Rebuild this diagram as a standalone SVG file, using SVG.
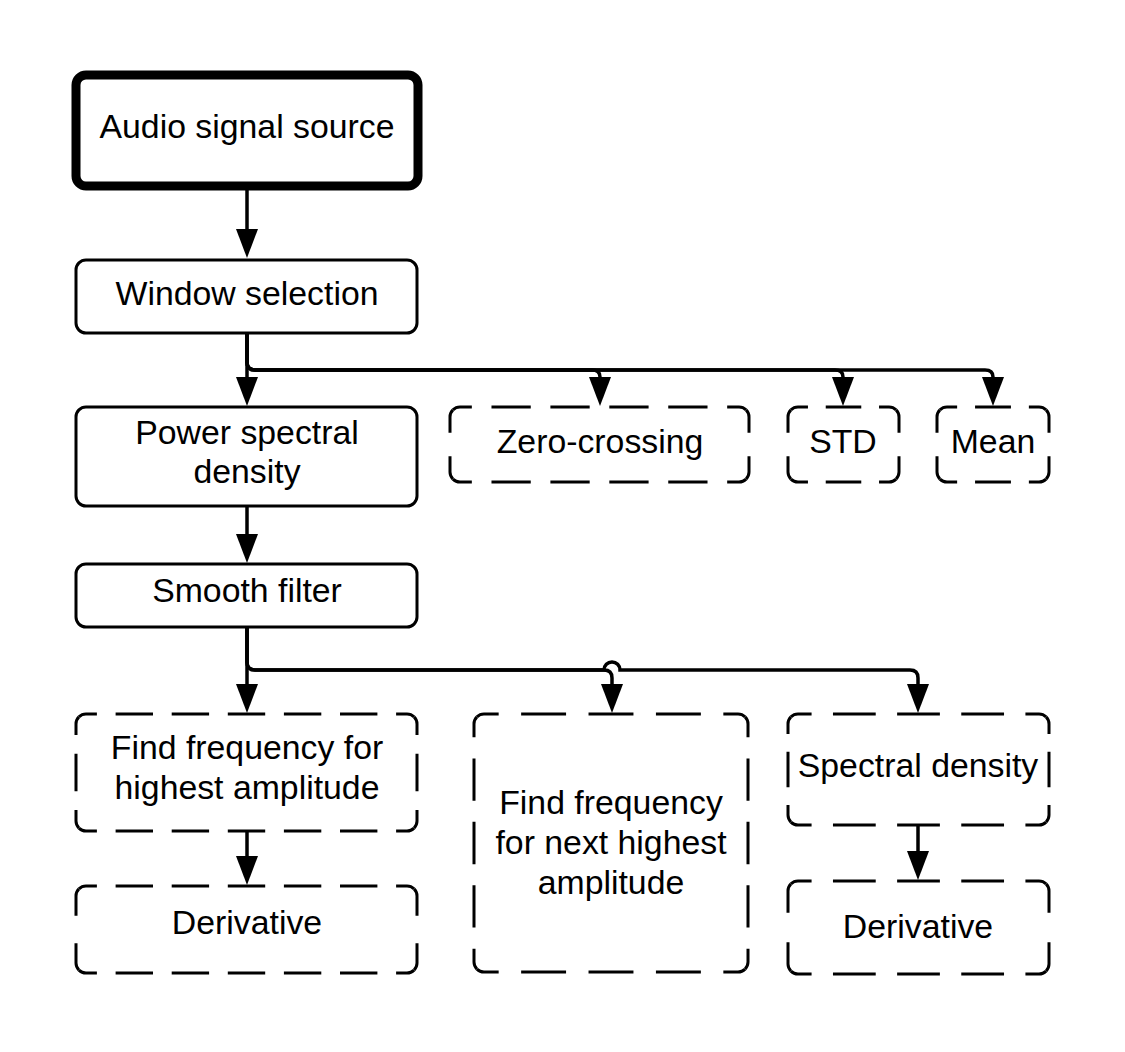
<svg xmlns="http://www.w3.org/2000/svg" width="1125" height="1052" viewBox="0 0 1125 1052">
<style>
.bx{fill:#fff;stroke:#000;stroke-width:3}
.bold{fill:#fff;stroke:#000;stroke-width:9}
.fill{fill:#fff;stroke:none}
.d{fill:none;stroke:#000;stroke-width:3;stroke-dasharray:36 18;stroke-dashoffset:18}
.c{fill:none;stroke:#000;stroke-width:3.5;marker-end:url(#ah)}
text{font-family:"Liberation Sans",Arial,sans-serif;font-size:33.8px;fill:#000;text-anchor:middle}
</style>
<defs>
<marker id="ah" viewBox="0 0 29 22" refX="0" refY="11" markerWidth="29" markerHeight="22" markerUnits="userSpaceOnUse" orient="auto"><path d="M0,0 L29,11 L0,22 z" fill="#000"/></marker>
</defs>
<rect width="1125" height="1052" fill="#fff"/>

<g id="connectors">
<path class="c" d="M247,190 V229"/>
<path class="c" d="M247,333 V377"/>
<path class="c" d="M247,333 V362 Q247,370 255,370 H592 Q600,370 600,377"/>
<path class="c" d="M247,333 V362 Q247,370 255,370 H835 Q843,370 843,377"/>
<path class="c" d="M247,333 V362 Q247,370 255,370 H985 Q993,370 993,377"/>
<path class="c" d="M247,506 V534"/>
<path class="c" d="M247,627 V684"/>
<path class="c" d="M247,627 V662 Q247,670 255,670 H604 Q612,670 612,678 V684"/>
<path class="c" d="M247,627 V662 Q247,670 255,670 H604 A8 8 0 0 1 620,670 H910 Q918,670 918,678 V684"/>
<path class="c" d="M247,831 V856"/>
<path class="c" d="M918,825 V851"/>
</g>

<g id="audio-signal-source">
<rect class="bold" x="76" y="75" width="342" height="111" rx="10"/>
<text x="247" y="138">Audio signal source</text>
</g>

<g id="window-selection">
<rect class="bx" x="76" y="260" width="341" height="73" rx="10"/>
<text x="247" y="305">Window selection</text>
</g>

<g id="power-spectral-density">
<rect class="bx" x="76" y="407" width="341" height="99" rx="10"/>
<text x="247" y="444">Power spectral</text>
<text x="247" y="483">density</text>
</g>

<g id="smooth-filter">
<rect class="bx" x="76" y="564" width="341" height="63" rx="10"/>
<text x="247" y="602">Smooth filter</text>
</g>

<g id="zero-crossing">
<rect class="fill" x="450" y="407" width="299" height="75" rx="10"/>
<path class="d" pathLength="270" d="M452.93,409.930 A10 10 0 0 1 460,407 H739 A10 10 0 0 1 746.07,409.93"/>
<path class="d" pathLength="54" d="M746.07,409.93 A10 10 0 0 1 749,417 V472 A10 10 0 0 1 746.07,479.07"/>
<path class="d" pathLength="270" d="M746.07,479.07 A10 10 0 0 1 739,482 H460 A10 10 0 0 1 452.93,479.07"/>
<path class="d" pathLength="54" d="M452.93,479.07 A10 10 0 0 1 450,472 V417 A10 10 0 0 1 452.93,409.93"/>
<text x="600" y="453">Zero-crossing</text>
</g>

<g id="std">
<rect class="fill" x="788" y="407" width="111" height="75" rx="10"/>
<path class="d" pathLength="108" d="M790.93,409.93 A10 10 0 0 1 798,407 H889 A10 10 0 0 1 896.07,409.93"/>
<path class="d" pathLength="54" d="M896.07,409.93 A10 10 0 0 1 899,417 V472 A10 10 0 0 1 896.07,479.07"/>
<path class="d" pathLength="108" d="M896.07,479.07 A10 10 0 0 1 889,482 H798 A10 10 0 0 1 790.93,479.07"/>
<path class="d" pathLength="54" d="M790.93,479.07 A10 10 0 0 1 788,472 V417 A10 10 0 0 1 790.93,409.93"/>
<text x="843" y="453">STD</text>
</g>

<g id="mean">
<rect class="fill" x="937" y="407" width="112" height="75" rx="10"/>
<path class="d" pathLength="108" d="M939.93,409.93 A10 10 0 0 1 947,407 H1039 A10 10 0 0 1 1046.07,409.93"/>
<path class="d" pathLength="54" d="M1046.07,409.93 A10 10 0 0 1 1049,417 V472 A10 10 0 0 1 1046.07,479.07"/>
<path class="d" pathLength="108" d="M1046.07,479.07 A10 10 0 0 1 1039,482 H947 A10 10 0 0 1 939.93,479.07"/>
<path class="d" pathLength="54" d="M939.93,479.07 A10 10 0 0 1 937,472 V417 A10 10 0 0 1 939.93,409.93"/>
<text x="993" y="453">Mean</text>
</g>

<g id="find-frequency-highest">
<rect class="fill" x="76" y="714" width="341" height="117" rx="10"/>
<path class="d" pathLength="324" d="M78.93,716.93 A10 10 0 0 1 86,714 H407 A10 10 0 0 1 414.07,716.93"/>
<path class="d" pathLength="108" d="M414.07,716.93 A10 10 0 0 1 417,724 V821 A10 10 0 0 1 414.07,828.07"/>
<path class="d" pathLength="324" d="M414.07,828.07 A10 10 0 0 1 407,831 H86 A10 10 0 0 1 78.93,828.07"/>
<path class="d" pathLength="108" d="M78.93,828.07 A10 10 0 0 1 76,821 V724 A10 10 0 0 1 78.93,716.93"/>
<text x="247" y="759">Find frequency for</text>
<text x="247" y="799">highest amplitude</text>
</g>

<g id="derivative-left">
<rect class="fill" x="76" y="886" width="341" height="87" rx="10"/>
<path class="d" pathLength="324" d="M78.93,888.93 A10 10 0 0 1 86,886 H407 A10 10 0 0 1 414.07,888.93"/>
<path class="d" pathLength="54" d="M414.07,888.93 A10 10 0 0 1 417,896 V963 A10 10 0 0 1 414.07,970.07"/>
<path class="d" pathLength="324" d="M414.07,970.07 A10 10 0 0 1 407,973 H86 A10 10 0 0 1 78.93,970.07"/>
<path class="d" pathLength="54" d="M78.93,970.07 A10 10 0 0 1 76,963 V896 A10 10 0 0 1 78.93,888.93"/>
<text x="247" y="934">Derivative</text>
</g>

<g id="find-frequency-next-highest">
<rect class="fill" x="474" y="714" width="274" height="258" rx="10"/>
<path class="d" pathLength="216" d="M476.93,716.93 A10 10 0 0 1 484,714 H738 A10 10 0 0 1 745.07,716.93"/>
<path class="d" pathLength="216" d="M745.07,716.93 A10 10 0 0 1 748,724 V962 A10 10 0 0 1 745.07,969.07"/>
<path class="d" pathLength="216" d="M745.07,969.07 A10 10 0 0 1 738,972 H484 A10 10 0 0 1 476.93,969.07"/>
<path class="d" pathLength="216" d="M476.93,969.07 A10 10 0 0 1 474,962 V724 A10 10 0 0 1 476.93,716.93"/>
<text x="611" y="814">Find frequency</text>
<text x="611" y="854">for next highest</text>
<text x="611" y="894">amplitude</text>
</g>

<g id="spectral-density">
<rect class="fill" x="788" y="714" width="261" height="111" rx="10"/>
<path class="d" pathLength="216" d="M790.93,716.93 A10 10 0 0 1 798,714 H1039 A10 10 0 0 1 1046.07,716.93"/>
<path class="d" pathLength="108" d="M1046.07,716.93 A10 10 0 0 1 1049,724 V815 A10 10 0 0 1 1046.07,822.07"/>
<path class="d" pathLength="216" d="M1046.07,822.07 A10 10 0 0 1 1039,825 H798 A10 10 0 0 1 790.93,822.07"/>
<path class="d" pathLength="108" d="M790.93,822.07 A10 10 0 0 1 788,815 V724 A10 10 0 0 1 790.93,716.93"/>
<text x="918" y="777">Spectral density</text>
</g>

<g id="derivative-right">
<rect class="fill" x="788" y="881" width="261" height="93" rx="10"/>
<path class="d" pathLength="216" d="M790.93,883.93 A10 10 0 0 1 798,881 H1039 A10 10 0 0 1 1046.07,883.93"/>
<path class="d" pathLength="54" d="M1046.07,883.93 A10 10 0 0 1 1049,891 V964 A10 10 0 0 1 1046.07,971.07"/>
<path class="d" pathLength="216" d="M1046.07,971.07 A10 10 0 0 1 1039,974 H798 A10 10 0 0 1 790.93,971.07"/>
<path class="d" pathLength="54" d="M790.93,971.07 A10 10 0 0 1 788,964 V891 A10 10 0 0 1 790.93,883.93"/>
<text x="918" y="938">Derivative</text>
</g>
</svg>
